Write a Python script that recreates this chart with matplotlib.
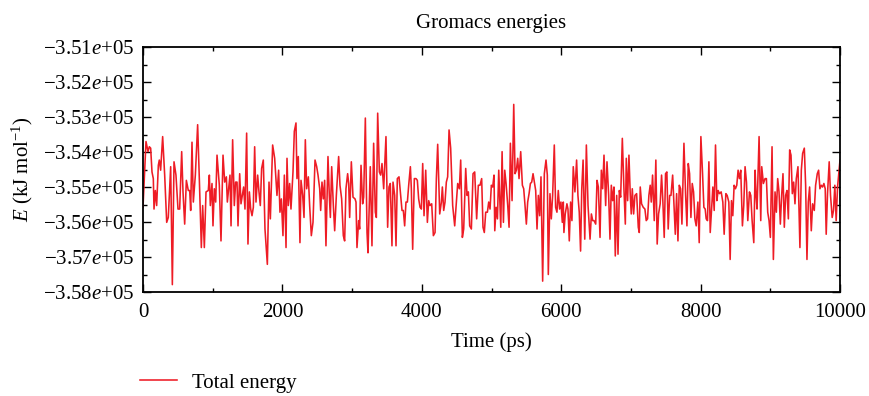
import matplotlib
matplotlib.use("Agg")
import matplotlib.pyplot as plt
from matplotlib.ticker import MultipleLocator, FuncFormatter

plt.rcParams['font.family'] = ['Liberation Serif', 'DejaVu Serif']
plt.rcParams['mathtext.fontset'] = 'custom'
plt.rcParams['mathtext.rm'] = 'Liberation Serif'
plt.rcParams['mathtext.it'] = 'Liberation Serif:italic'
plt.rcParams['font.size'] = 15

# simulation time (ps) and total energy (kJ/mol)
time_ps = [
    0, 43, 72, 91, 110, 129, 148, 158, 177, 196, 220, 234, 253, 282, 311, 340, 363, 397, 421, 445,
    473, 502, 526, 555, 574, 598, 622, 650, 670, 684, 703, 722, 751, 784, 808, 837, 856, 880, 904, 937,
    952, 966, 990, 1004, 1023, 1043, 1062, 1095, 1119, 1148, 1172, 1196, 1210, 1248,
    1263, 1286, 1310, 1329, 1349, 1363, 1387, 1406, 1425, 1444, 1463, 1487, 1506, 1526, 1545, 1564,
    1583, 1602, 1621, 1645, 1664, 1683, 1702, 1726, 1750, 1784, 1808, 1827, 1860, 1889, 1903, 1922,
    1946, 1965, 1985, 2008, 2028, 2052, 2066, 2085, 2104, 2123, 2152, 2171, 2195, 2209, 2228, 2252,
    2267, 2291, 2310, 2329, 2348, 2372, 2391, 2415, 2439, 2468, 2492, 2511,
    2535, 2549, 2568, 2587, 2606, 2625, 2654, 2673, 2688, 2707, 2731, 2750, 2774, 2807, 2826, 2850,
    2874, 2893, 2912, 2936, 2951, 2965, 2989, 3013, 3042, 3056, 3070, 3094, 3108, 3128, 3151, 3166,
    3190, 3214, 3228, 3261, 3285, 3309, 3333, 3348, 3367, 3391, 3410, 3429, 3453, 3486, 3510, 3529,
    3548, 3572, 3587, 3611, 3630, 3649, 3673, 3697, 3716, 3735, 3754, 3773,
    3793, 3812, 3836, 3850, 3869, 3893, 3917, 3936, 3955, 3975, 3994, 4013, 4032, 4056, 4080, 4099,
    4118, 4142, 4166, 4190, 4209, 4228, 4257, 4281, 4295, 4314, 4333, 4352, 4371, 4391, 4414, 4443,
    4472, 4496, 4515, 4539, 4558, 4582, 4601, 4630, 4649, 4668, 4687, 4711, 4735, 4759, 4787, 4811,
    4835, 4859, 4878, 4897, 4917, 4941, 4960, 4979, 4998, 5017, 5036,
    5047, 5066, 5085, 5104, 5133, 5152, 5171, 5190, 5209, 5233, 5252, 5271, 5295, 5319, 5338, 5357,
    5376, 5395, 5419, 5443, 5462, 5481, 5500, 5519, 5539, 5558, 5577, 5596, 5615, 5634, 5653, 5672,
    5691, 5710, 5734, 5758, 5782, 5801, 5815, 5839, 5858, 5877, 5901, 5920, 5939, 5958, 5977, 5996,
    6016, 6030, 6039, 6058, 6082, 6097, 6116, 6135, 6154, 6173, 6197, 6221, 6240, 6259, 6278,
    6295, 6314, 6338, 6361, 6385, 6414, 6433, 6452, 6471, 6495, 6514, 6533, 6557, 6576, 6595, 6614,
    6638, 6657, 6681, 6700, 6719, 6738, 6757, 6776, 6796, 6815, 6834, 6853, 6877, 6900, 6920, 6934,
    6953, 6972, 6991, 7005, 7020, 7039, 7058, 7082, 7106, 7120, 7134, 7153, 7177, 7201, 7220, 7239,
    7258, 7277, 7292, 7311, 7335, 7358, 7377, 7397, 7420, 7440, 7459, 7478, 7497, 7516, 7535,
    7556, 7575, 7599, 7618, 7637, 7656, 7675, 7694, 7713, 7732, 7761, 7785, 7804, 7823, 7842, 7861,
    7880, 7899, 7918, 7937, 7961, 7980, 8004, 8028, 8047, 8066, 8080, 8099, 8119, 8138, 8157, 8176,
    8195, 8214, 8233, 8252, 8271, 8295, 8319, 8338, 8362, 8381, 8405, 8424, 8443, 8462, 8481, 8500,
    8519, 8538, 8557, 8576, 8600, 8619, 8638, 8658, 8677, 8701, 8720, 8739, 8763, 8782, 8796,
    8810, 8839, 8863, 8877, 8901, 8925, 8944, 8963, 8982, 9001, 9025, 9044, 9068, 9087, 9106, 9125,
    9144, 9163, 9182, 9201, 9220, 9239, 9259, 9278, 9297, 9316, 9335, 9354, 9373, 9397, 9425, 9445,
    9464, 9488, 9507, 9526, 9545, 9564, 9588, 9607, 9631, 9650, 9674, 9693, 9712, 9731, 9750, 9769,
    9788, 9802, 9821, 9845, 9864, 9888, 9907, 9926, 9945, 9965, 9984, 10000,
]

total_energy = [
    -355580, -353700, -353990, -353850, -353890, -354570, -354760, -355630, -355100, -355530,
    -354380, -354230, -354520, -353560, -354660, -356010, -355870, -354420, -357790, -354280,
    -354660, -355630, -355630, -353990, -355140, -356060, -354810, -355100, -355100, -355670,
    -353720, -355430, -354660, -353220, -354760, -356730, -355530, -356730, -355140, -355100,
    -354660, -355530, -354900, -356110, -355050, -355430, -354090, -354950, -356540, -354090,
    -354860, -354710, -355430, -354660,
    -356110, -353650, -355530, -354860, -354860, -356110, -354620, -355480, -355240, -355000,
    -355630, -353460, -356630, -355140, -355630, -355820, -355580, -353850, -355430, -354660,
    -355140, -355530, -354470, -354230, -356200, -357210, -354860, -355910, -353800, -354180,
    -354620, -355240, -354520, -355720, -355340, -356390, -354660, -356730, -354180, -355530,
    -354900, -355630, -354570, -353410, -353170, -354760, -354130, -356590, -354810, -355240,
    -355870, -353650, -355050, -354710, -355530, -356390, -356010, -354230, -354420, -354660,
    -355050, -355670, -354860, -355340, -354810, -356680, -354130, -355240, -355870, -354420,
    -355530, -356250, -355240, -354130, -354950, -355340, -356390, -356540, -355050, -354620,
    -354900, -355870, -354280, -355290, -355340, -355430, -356730, -355960, -356200, -354380,
    -355480, -355290, -353030, -356300, -356880, -354420, -356680, -353750, -355720, -355870,
    -352890, -354570, -354660, -354330, -355050, -353560, -356150, -355000, -354900, -356680,
    -354860, -355240, -356680, -354760, -354710, -355240, -355670, -355670, -356110, -355430,
    -355430, -354950, -354420, -355050, -356780, -354760, -354760, -354810, -355340, -355580,
    -355630, -354330, -355820, -354520, -356010, -355390, -355530, -355480, -356390, -356300,
    -354760, -353780, -355770, -355430, -355000, -355670, -355430, -354860, -354710, -353370,
    -353890, -355530, -356110, -355430, -354900, -355050, -354230, -356440, -356200, -354470,
    -355240, -355140, -356110, -356200, -354620, -354570, -355910, -354950, -354950, -354760,
    -356150, -356300, -355720, -355720, -355430, -355630, -354950, -355000, -354660,
    -356250, -355580, -355910, -354520, -356150, -353990, -356010, -354520, -354900, -355530,
    -356150, -353750, -355390, -352640, -354620, -354520, -354180, -354760, -353990, -354950,
    -355050, -355530, -356060, -355430, -355190, -354900, -354860, -354620, -354860, -355100,
    -356200, -355240, -355820, -354710, -357690, -354620, -354230, -354660, -357500, -355190,
    -355910, -355240, -353800, -355580, -355720, -355100, -355630, -355430, -356010, -355430,
    -356300, -355770, -355480, -355630, -356540, -355430, -355960, -354420, -355140, -354230,
    -355240, -355720, -356830,
    -355050, -354230, -356490, -353800, -355530, -356490, -355770, -355960, -355960, -356060,
    -354810, -355000, -356440, -354520, -355050, -354090, -355530, -354280, -355240, -356490,
    -354950, -355390, -355000, -356970, -355240, -356920, -355100, -355290, -353610, -355050,
    -356060, -354180, -355390, -354090, -355240, -355770, -355050, -355770, -355240, -355190,
    -356150, -356300, -355000, -355480, -355580, -355630, -355960, -355910, -355240, -354950,
    -355430, -354660, -355960, -354230, -356630, -355770, -355480, -354660, -355430, -356440,
    -354620, -354570, -356200,
    -355240, -355240, -354660, -355530, -356350, -355190, -356540, -354950, -355050, -356060,
    -353750, -355240, -356110, -354330, -354620, -355870, -354900, -355140, -355910, -356110,
    -355430, -356590, -353560, -354620, -355580, -355630, -355910, -355960, -354280, -356300,
    -355670, -355000, -355670, -353800, -355390, -355100, -355190, -355140, -355430, -356350,
    -355190, -355240, -355430, -357070, -355390, -355820, -354950, -355050, -354950, -354520,
    -354760, -354520, -356110, -355530, -354420, -354860, -355960, -355140, -355240, -355960,
    -356590, -354520, -355240,
    -355630, -353560, -355960, -354420, -354900, -354760, -354760, -355720, -355960, -356440,
    -353850, -357070, -355140, -355720, -354760, -355140, -356060, -355240, -354620, -356150,
    -355240, -355100, -355910, -353940, -354090, -355190, -354860, -355480, -354760, -354420,
    -356730, -354520, -354040, -353890, -354950, -357070, -355430, -355000, -356250, -355480,
    -355670, -354950, -354620, -354520, -355050, -354950, -355000, -354900, -355050, -356350,
    -355190, -354280, -355240, -355870, -355670, -354950, -355960, -355000, -354570, -354230,
]

x_limits = (0, 10000)
y_limits = (-358000, -351000)


def energy_label(v, pos):
    return "\u2212%.2f$e$+05" % (abs(v) / 1e5)


fig = plt.figure(figsize=(8.7, 3.96), dpi=100)
ax = fig.add_axes([143 / 870, 1 - 292 / 396, (840 - 143) / 870, (292 - 47) / 396])

line, = ax.plot(time_ps, total_energy, color='#ee1c25', lw=1.15, label='Total energy')

ax.set_xlim(*x_limits)
ax.set_ylim(*y_limits)
ax.xaxis.set_major_locator(MultipleLocator(2000))
ax.xaxis.set_minor_locator(MultipleLocator(1000))
ax.yaxis.set_major_locator(MultipleLocator(1000))
ax.yaxis.set_minor_locator(MultipleLocator(500))
ax.yaxis.set_major_formatter(FuncFormatter(energy_label))

ax.tick_params(which='both', direction='in', top=True, right=True, width=1.0)
ax.tick_params(which='major', length=6)
ax.tick_params(which='minor', length=3)
ax.tick_params(axis='x', which='major', pad=8)
ax.tick_params(axis='y', which='major', pad=6)
for s in ax.spines.values():
    s.set_linewidth(1.3)

ax.set_title('Gromacs energies', fontsize=15, pad=14)
ax.set_xlabel('Time (ps)', fontsize=15, labelpad=7)
ax.set_ylabel(r'$E$ (kJ mol$^{-1}$)', fontsize=15, labelpad=6)

fig.legend(handles=[line], loc='center left', bbox_to_anchor=(140 / 870, 1 - 383 / 396),
           frameon=False, borderpad=0, borderaxespad=0, handlelength=1.8, handletextpad=0.7,
           fontsize=15)

fig.savefig('out.png', dpi=100)
